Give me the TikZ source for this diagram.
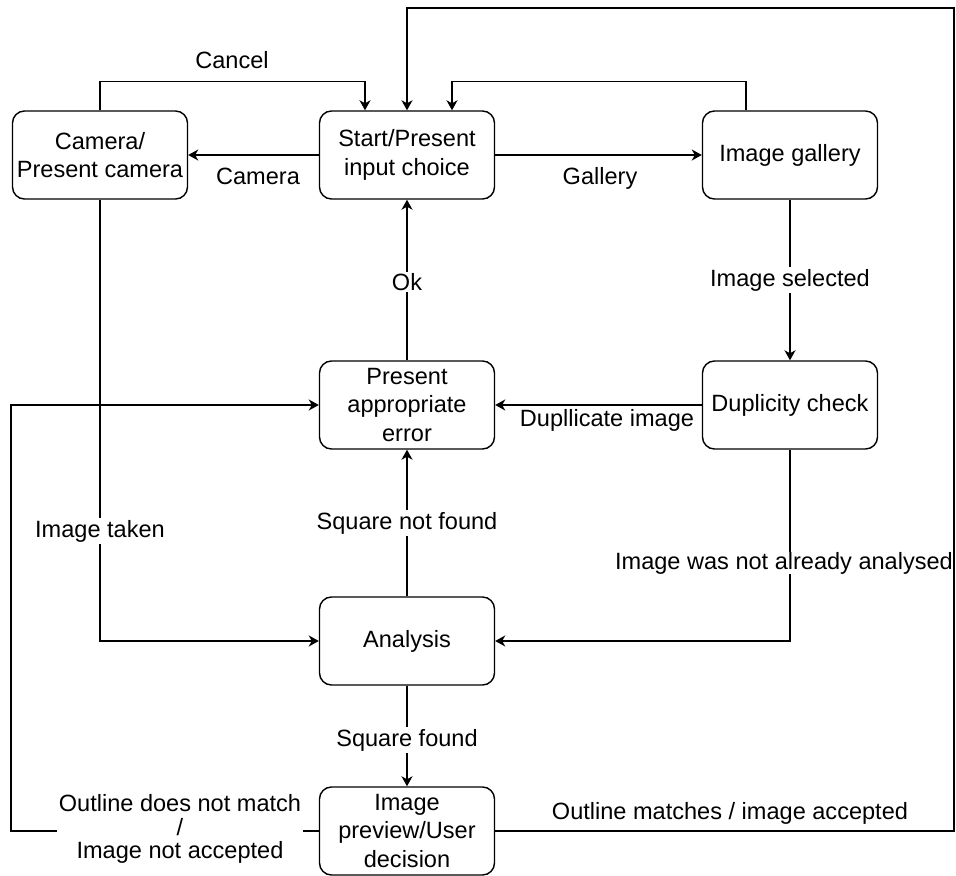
\documentclass[tikz,border=0pt]{standalone}
\usepackage{fontspec}
\setmainfont{Liberation Sans}
\usetikzlibrary{arrows.meta, positioning}

\begin{document}
\begin{tikzpicture}[
    x=0.2mm, y=0.2mm,
    box/.style={rectangle, draw, line width=0.8pt, rounded corners=2.4mm, minimum width=3.5cm, minimum height=1.76cm, inner sep=0pt, align=center, font=\fontsize{13.4}{16.2}\selectfont},
    lbl/.style={inner sep=1pt, align=center, font=\fontsize{13.4}{16.2}\selectfont},
    arrow/.style={-{Stealth[length=2mm, width=2.2mm, inset=0.6mm]}, line width=0.8pt},
]
\useasboundingbox (0,0) rectangle (956,875);

\node[box] (start) at (407,720) {Start/Present\\input choice};
\node[box] (camera) at (100,720) {Camera/\\Present camera};
\node[box] (gallery) at (790,720) {Image gallery};
\node[box] (error) at (407,470) {Present\\appropriate\\error};
\node[box] (dupcheck) at (790,470) {Duplicity check};
\node[box] (analysis) at (407,234) {Analysis};
\node[box] (preview) at (407,44) {Image\\preview/User\\decision};

\coordinate (righttop) at (954,867);
\coordinate (leftrail) at (11,470);

\draw[arrow] (start.west) -- (camera.east);
\draw[arrow] (start.east) -- (gallery.west);
\draw[arrow] (camera.north) -- ++(0,29) -| ([xshift=-0.84cm]start.north);
\draw[arrow] ([xshift=-0.88cm]gallery.north) -- ++(0,29) -| ([xshift=0.9cm]start.north);
\draw[arrow] (preview.east) -| (righttop) -| (start.north);
\draw[arrow] (gallery.south) -- (dupcheck.north);
\draw[arrow] (dupcheck.west) -- (error.east);
\draw[arrow] (error.north) -- (start.south);
\draw[arrow] (camera.south) |- (analysis.west);
\draw[arrow] (dupcheck.south) |- (analysis.east);
\draw[arrow] (analysis.north) -- (error.south);
\draw[arrow] (analysis.south) -- (preview.north);
\draw[arrow] (preview.west) -| (leftrail) -- (error.west);

% Labels on the connectors
\node[lbl] (lcancel) at (232,815) {Cancel};
\node[lbl] (lcamera) at (258,699) {Camera};
\node[lbl] (lgallery) at (600,697) {Gallery};
\node[lbl, fill=white] (lok) at (407,593) {Ok};
\node[lbl, fill=white] (lselected) at (790,595) {Image selected};
\node[lbl] (ldupl) at (607,455) {Dupllicate image};
\node[lbl, fill=white] (ltaken) at (100,344) {Image taken};
\node[lbl, fill=white] (lnotfound) at (407,352) {Square not found};
\node[lbl, fill=white, inner sep=0pt] (lnotanalysed) at (784,312) {Image was not already analysed};
\node[lbl, fill=white] (lfound) at (407,135) {Square found};
\node[lbl] (laccepted) at (730,62) {Outline matches / image accepted};
\node[lbl, fill=white, font=\fontsize{13.4}{13.6}\selectfont] (lrejected) at (180,46) {Outline does not match\\/\\Image not accepted};

\end{tikzpicture}
\end{document}
